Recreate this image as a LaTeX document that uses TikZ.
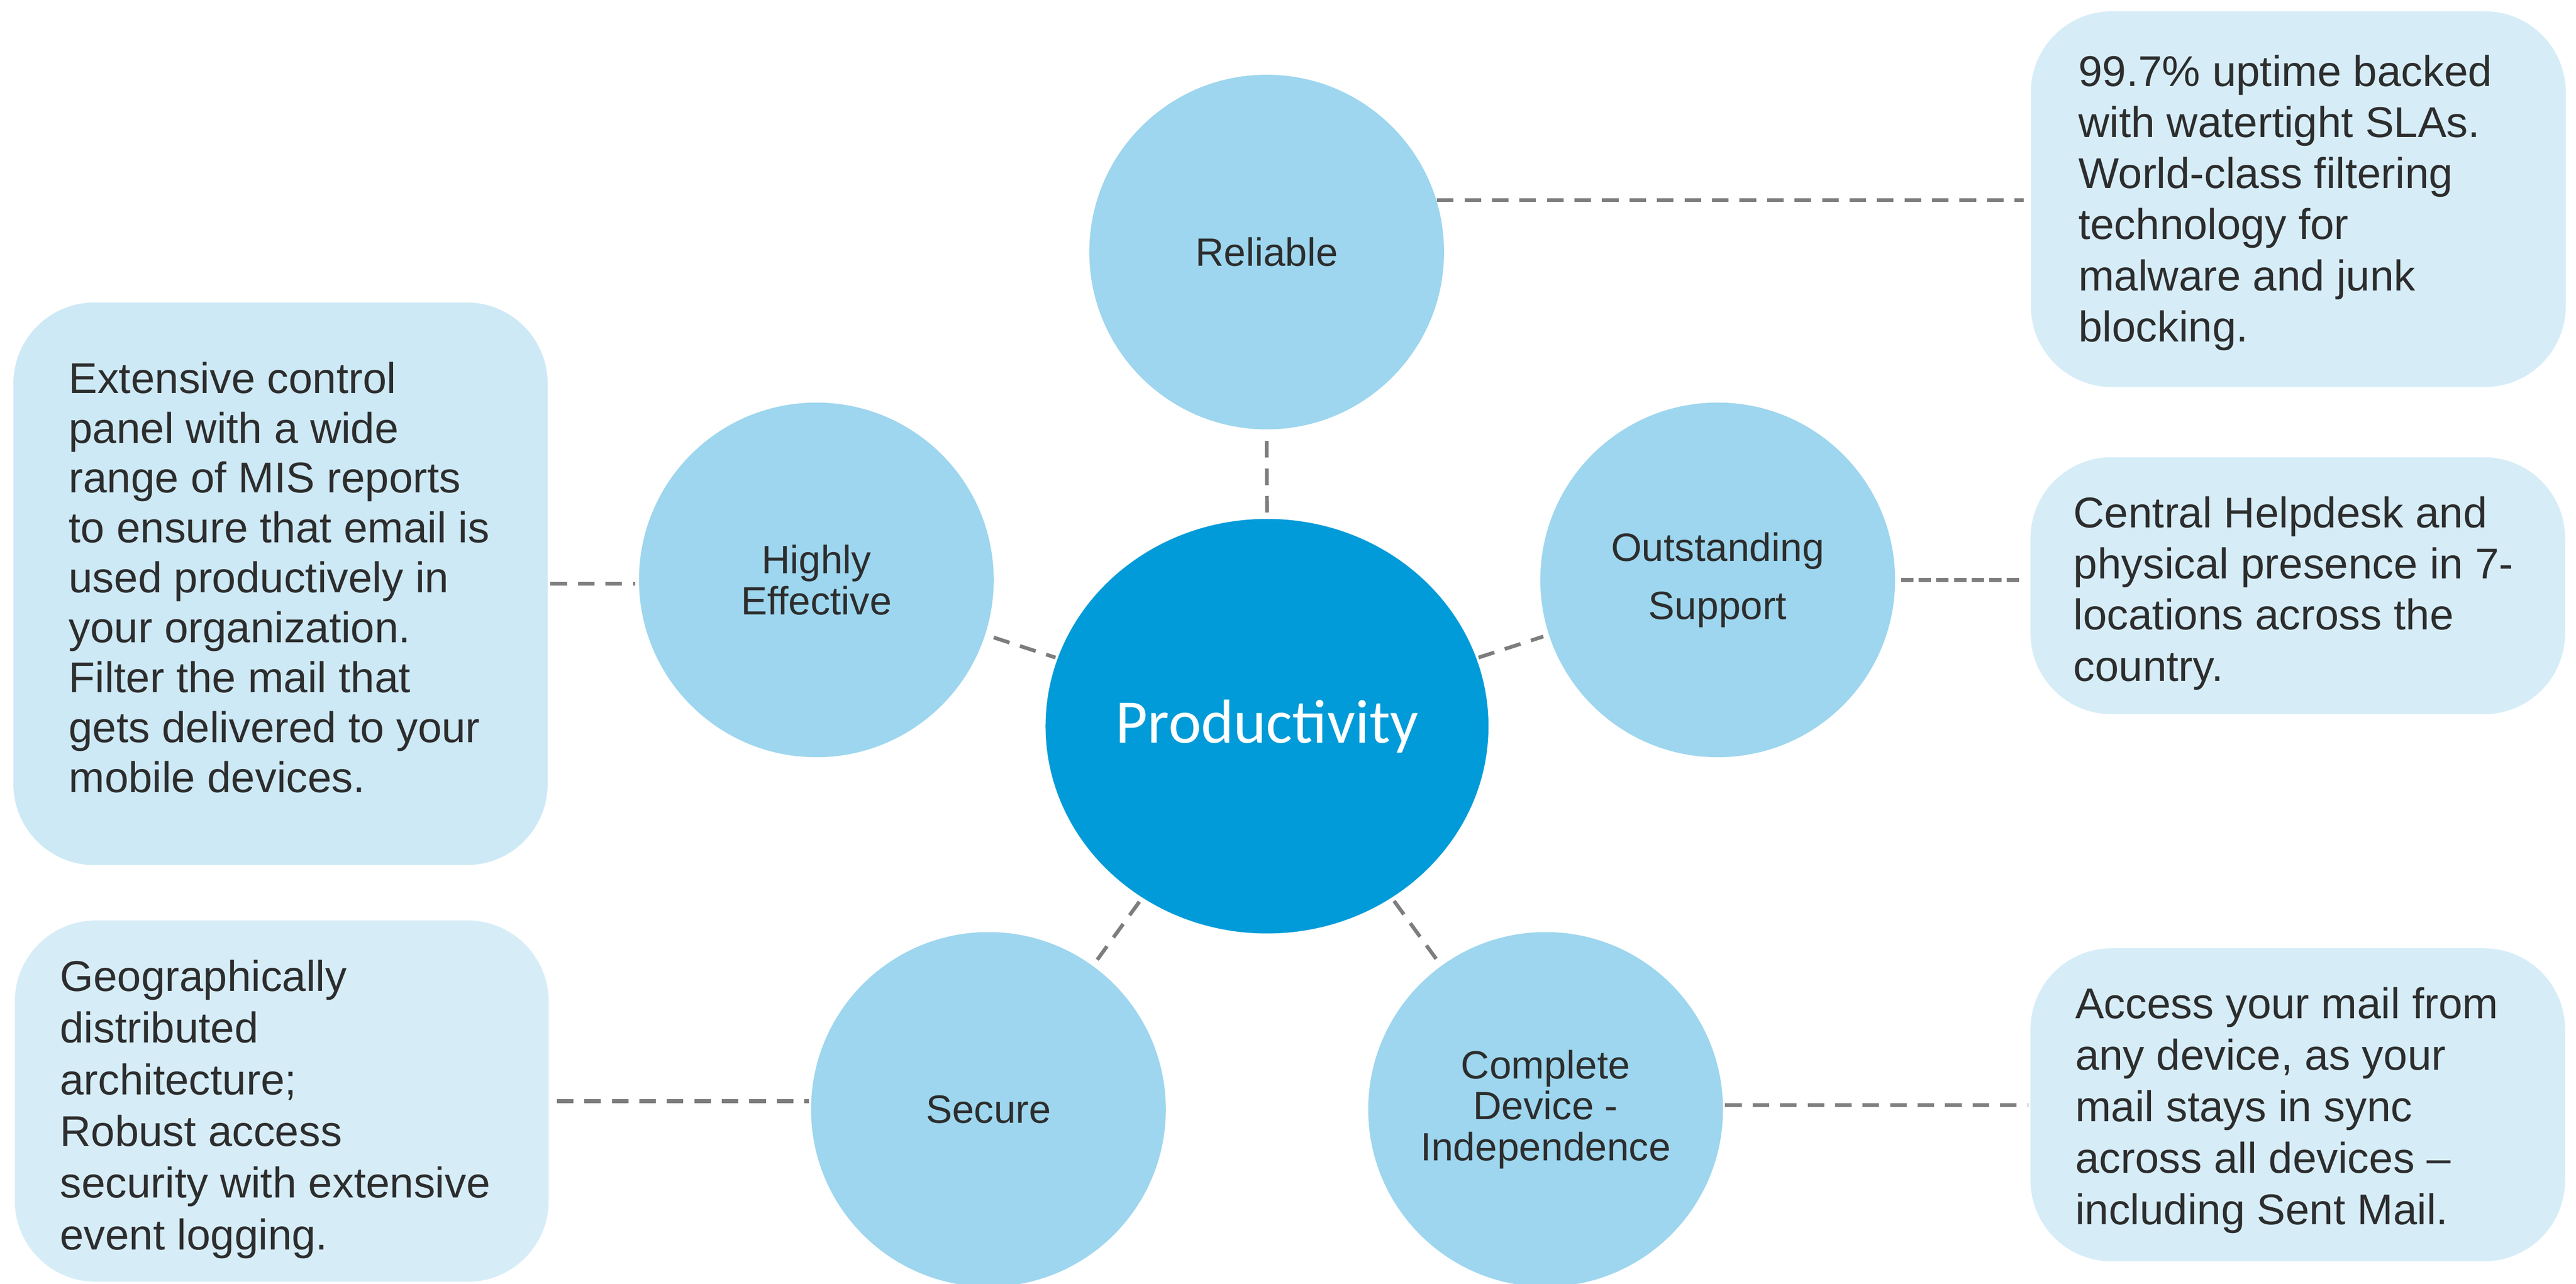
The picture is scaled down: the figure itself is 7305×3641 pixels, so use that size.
\documentclass[tikz,border=0pt]{standalone}
\usepackage{fontspec}
\setmainfont{Liberation Sans}
\newfontfamily\prodfont{Carlito}
\usetikzlibrary{shapes.geometric}
\definecolor{prodblue}{RGB}{0,155,216}
\definecolor{circblue}{RGB}{157,214,238}
\definecolor{boxblue}{RGB}{214,237,248}
\definecolor{boxblueB}{RGB}{205,233,245}
\definecolor{txtgray}{RGB}{45,45,45}
\definecolor{linegray}{RGB}{125,125,125}
\begin{document}
\begin{tikzpicture}[x=0.1pt,y=-0.1pt,
  sat/.style={circle,fill=circblue,inner sep=0pt,minimum size=100.6pt,align=center,text=txtgray,font=\fontsize{11.2pt}{11.6pt}\selectfont},
  infobox/.style={rectangle,rounded corners=23pt,fill=boxblue,inner sep=0pt},
  boxtext/.style={inner sep=0pt,align=left,text=txtgray,anchor=west,font=\fontsize{12.2pt}{14.5pt}\selectfont},
  conn/.style={draw=linegray,line width=1.05pt,dash pattern=on 4.7pt off 3.1pt},
  densedash/.style={dash pattern=on 3.5pt off 1.5pt},
]
\useasboundingbox (0,0) rectangle (7305,3641);
\fill[white] (0,0) rectangle (7305,3641);

% central node
\node[ellipse,fill=prodblue,inner sep=0pt,minimum width=125.6pt,minimum height=117.6pt,text=white,font=\prodfont\fontsize{17.6pt}{20pt}\selectfont] (prod) at (3593,2060) {Productivity};

% satellites
\node[sat] (rel)  at (3592,715)  {Reliable};
\node[sat] (high) at (2315,1645) {Highly\\Effective};
\node[sat] (outs) at (4871,1645) {Outstanding\\[4.9pt]Support};
\node[sat] (sec)  at (2803,3147) {Secure};
\node[sat] (comp) at (4383,3147) {Complete\\Device -\\Independence};

% info boxes
\node[infobox,minimum width=151.7pt,minimum height=106.6pt] (Brel)  at (6517.5,565)  {};
\node[infobox,fill=boxblueB,minimum width=151.5pt,minimum height=159.6pt] (Bhigh) at (795.5,1656) {};
\node[infobox,minimum width=151.6pt,minimum height=72.9pt]  (Bouts) at (6516,1661.5) {};
\node[infobox,minimum width=151.4pt,minimum height=102.5pt] (Bsec)  at (799,3123.5)  {};
\node[infobox,minimum width=151.6pt,minimum height=88.8pt]  (Bcomp) at (6516,3134)   {};

% box texts
\node[boxtext,yshift=-1pt] (Trel) at ([xshift=13.5pt]Brel.west)
  {99.7\% uptime backed\\with watertight SLAs.\\World-class filtering\\technology for\\malware and junk\\blocking.};
\node[boxtext,yshift=1.85pt,font=\fontsize{12.2pt}{14.15pt}\selectfont] (Thigh) at ([xshift=15.7pt]Bhigh.west)
  {Extensive control\\panel with a wide\\range of MIS reports\\to ensure that email is\\used productively in\\your organization.\\Filter the mail that\\gets delivered to your\\mobile devices.};
\node[boxtext,yshift=-2.1pt] (Touts) at ([xshift=12.2pt]Bouts.west)
  {Central Helpdesk and\\physical presence in 7-\\locations across the\\country.};
\node[boxtext,yshift=-2.3pt,font=\fontsize{12.2pt}{14.68pt}\selectfont] (Tsec) at ([xshift=12.8pt]Bsec.west)
  {Geographically\\distributed\\architecture;\\Robust access\\security with extensive\\event logging.};
\node[boxtext,yshift=-1.55pt,font=\fontsize{12.2pt}{14.6pt}\selectfont] (Tcomp) at ([xshift=12.7pt]Bcomp.west)
  {Access your mail from\\any device, as your\\mail stays in sync\\across all devices --\\including Sent Mail.};

% connectors to the centre
\draw[conn,shorten <=3.1pt,shorten >=0.9pt] (rel.south) -- (prod.north);
\draw[conn,shorten <=2.4pt,shorten >=0.5pt] (high) -- (prod);
\draw[conn,shorten <=0.5pt,shorten >=1.5pt] (prod) -- (outs);
\draw[conn,shorten <=2pt,shorten >=1pt] (sec) -- (prod);
\draw[conn,shorten <=1pt,shorten >=2pt] (prod) -- (comp);

% connectors to the boxes
\draw[conn,shorten >=1.9pt] (rel.17.7) -- (rel.17.7 -| Brel.west);
\draw[conn,shorten <=0.6pt,shorten >=0.8pt] (Bhigh.east) -- (Bhigh.east -| high.west);
\draw[conn,densedash,shorten <=1.5pt,shorten >=2.2pt] (outs.east) -- (outs.east -| Bouts.west);
\draw[conn,shorten <=2.1pt,shorten >=0.4pt] (Bsec.east) -- (Bsec.east -| sec.west);
\draw[conn,shorten <=0.4pt,shorten >=0.4pt] (Bcomp.west -| comp.east) -- (Bcomp.west);
\end{tikzpicture}
\end{document}
